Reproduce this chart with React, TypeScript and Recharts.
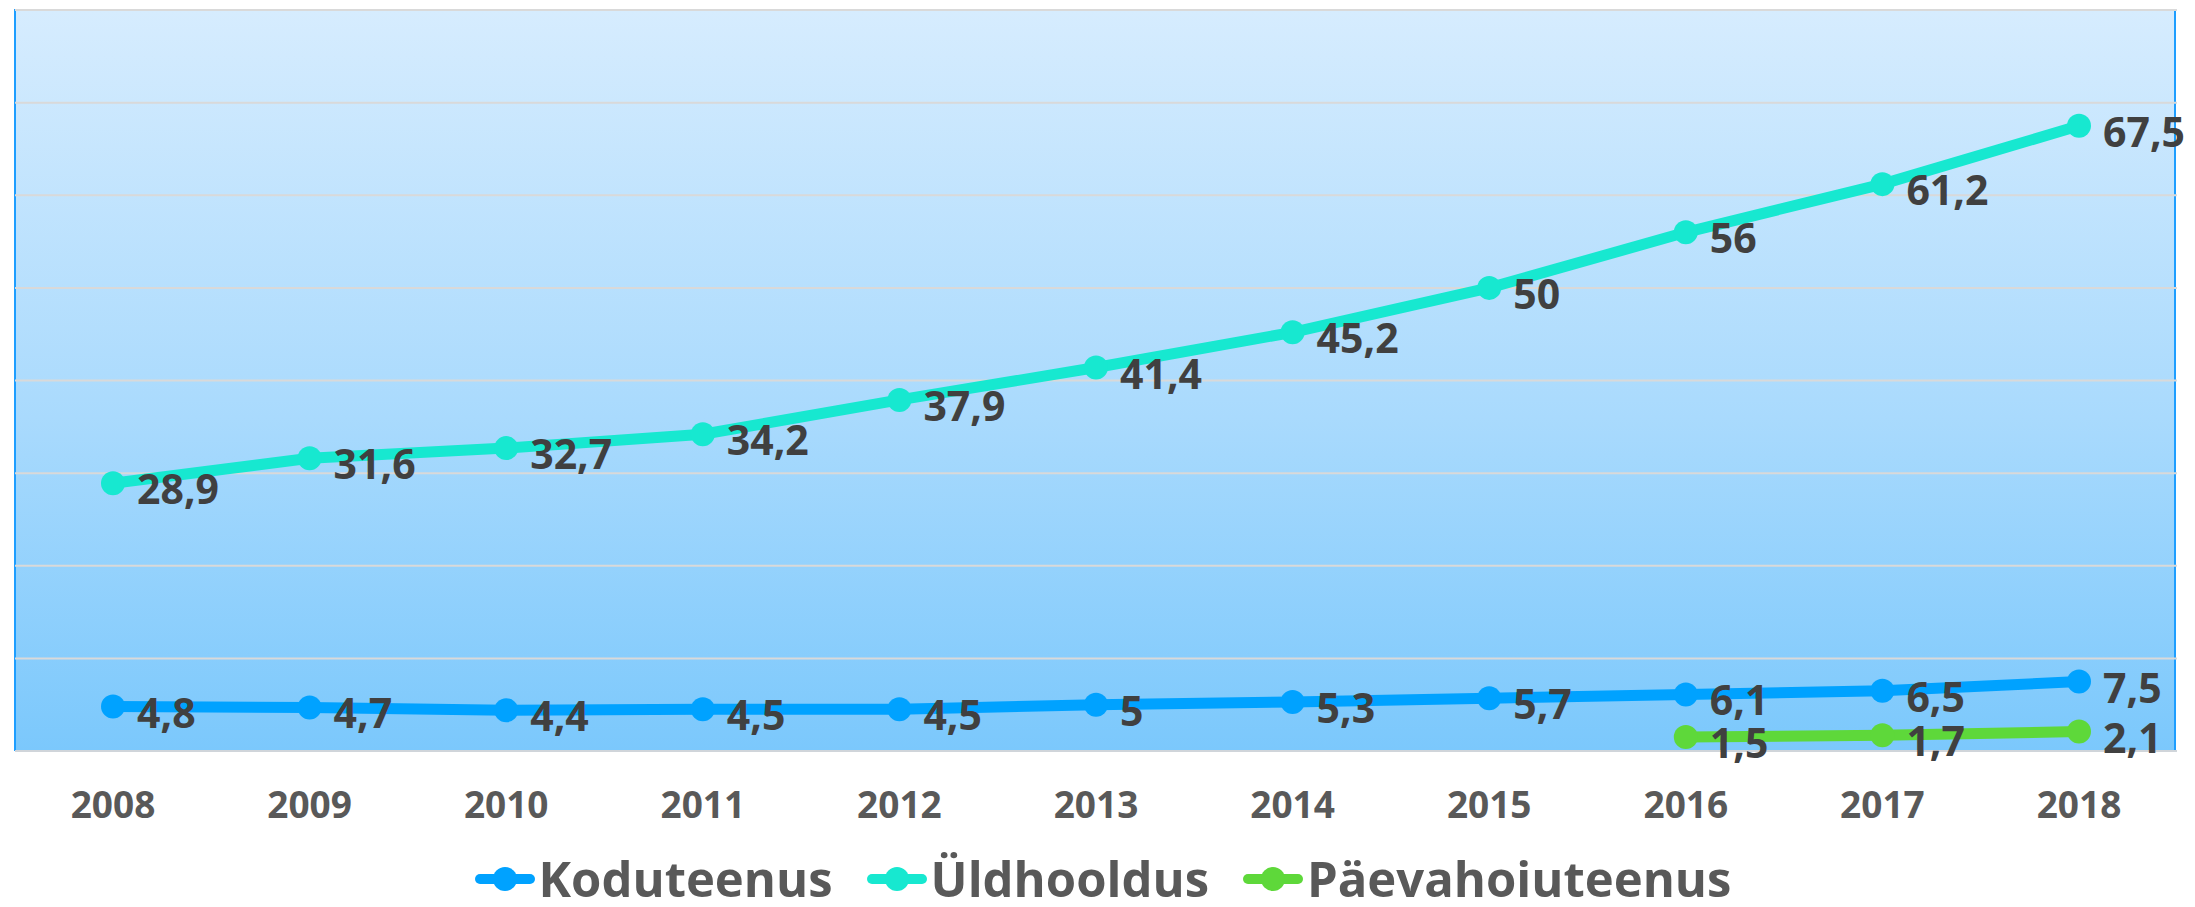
import { LineChart, Line, XAxis, YAxis, CartesianGrid, Legend, LabelList } from 'recharts';

const YEARS = ['2008', '2009', '2010', '2011', '2012', '2013', '2014', '2015', '2016', '2017', '2018'];
const KODUTEENUS = [4.8, 4.7, 4.4, 4.5, 4.5, 5, 5.3, 5.7, 6.1, 6.5, 7.5];
const YLDHOOLDUS = [28.9, 31.6, 32.7, 34.2, 37.9, 41.4, 45.2, 50, 56, 61.2, 67.5];
const PAEVAHOID = [null, null, null, null, null, null, null, null, 1.5, 1.7, 2.1];
const Y_TICKS = [0, 10, 20, 30, 40, 50, 60, 70];

const SERIES = [
  { key: 'kodu', name: 'Koduteenus', color: '#00A2FF' },
  { key: 'yld', name: 'Üldhooldus', color: '#17E8D0' },
  { key: 'paev', name: 'Päevahoiuteenus', color: '#5ED83A' },
];

const data = YEARS.map((year, i) => ({
  year,
  kodu: KODUTEENUS[i],
  yld: YLDHOOLDUS[i],
  paev: PAEVAHOID[i],
}));

const FONT = '"Open Sans", "DejaVu Sans", sans-serif';

const YearTick = ({ x, y, payload }: any) => (
  <text
    x={x}
    y={y + 52}
    textAnchor="middle"
    dominantBaseline="central"
    fill="#595959"
    fontSize={37}
    fontWeight={700}
    fontFamily={FONT}
  >
    {payload.value}
  </text>
);

const ValueLabel = ({ x, y, value }: any) => {
  if (value == null) return null;
  return (
    <text
      x={x + 24}
      y={y + 5}
      dominantBaseline="central"
      fill="#404040"
      fontSize={41}
      fontWeight={700}
      fontFamily={FONT}
    >
      {String(value).replace('.', ',')}
    </text>
  );
};

const LegendContent = () => (
  <div
    style={{
      display: 'flex',
      justifyContent: 'center',
      alignItems: 'center',
      gap: 34,
      paddingLeft: 14,
      paddingTop: 20,
      height: 56,
    }}
  >
    {SERIES.map((s) => (
      <div key={s.key} style={{ display: 'flex', alignItems: 'center' }}>
        <svg width={60} height={30} style={{ marginRight: 4 }}>
          <line x1={5} y1={15} x2={55} y2={15} stroke={s.color} strokeWidth={10} strokeLinecap="round" />
          <circle cx={30} cy={15} r={12} fill={s.color} />
        </svg>
        <span style={{ fontFamily: FONT, fontWeight: 700, fontSize: 49, color: '#595959', lineHeight: 1.1 }}>
          {s.name}
        </span>
      </div>
    ))}
  </div>
);

export default function App() {
  return (
    <div style={{ position: 'absolute', left: 0, top: 0, width: 2195, height: 907, background: '#fff' }}>
      <div
        style={{
          position: 'absolute',
          left: 14,
          top: 9,
          width: 2162,
          height: 742,
          background: 'linear-gradient(#D6ECFE, #A9DAFD 55%, #7BC8FC)',
          borderLeft: '2px solid #1E9EFF',
          borderTop: '2px solid #1E9EFF',
          borderRight: '2px solid #1E9EFF',
          boxSizing: 'border-box',
        }}
      />
      <div style={{ position: 'absolute', left: 0, top: 0 }}>
        <LineChart width={2195} height={907} data={data} margin={{ top: 10, right: 18, left: 15, bottom: 0 }}>
          <CartesianGrid vertical={false} stroke="#D9D9D9" strokeWidth={2} />
          <XAxis
            dataKey="year"
            height={80}
            tickLine={false}
            tickSize={0}
            tickMargin={0}
            padding={{ left: 98, right: 98 }}
            axisLine={{ stroke: '#D0D5DA', strokeWidth: 2 }}
            tick={<YearTick />}
            interval={0}
          />
          <YAxis hide domain={[0, 80]} ticks={Y_TICKS} />
          <Legend verticalAlign="bottom" height={76} content={<LegendContent />} />
          {SERIES.map((s) => (
            <Line
              key={s.key}
              type="linear"
              dataKey={s.key}
              name={s.name}
              stroke={s.color}
              strokeWidth={11}
              dot={{ r: 12, fill: s.color, stroke: 'none' }}
              activeDot={false}
              isAnimationActive={false}
            >
              <LabelList dataKey={s.key} content={<ValueLabel />} />
            </Line>
          ))}
        </LineChart>
      </div>
    </div>
  );
}
